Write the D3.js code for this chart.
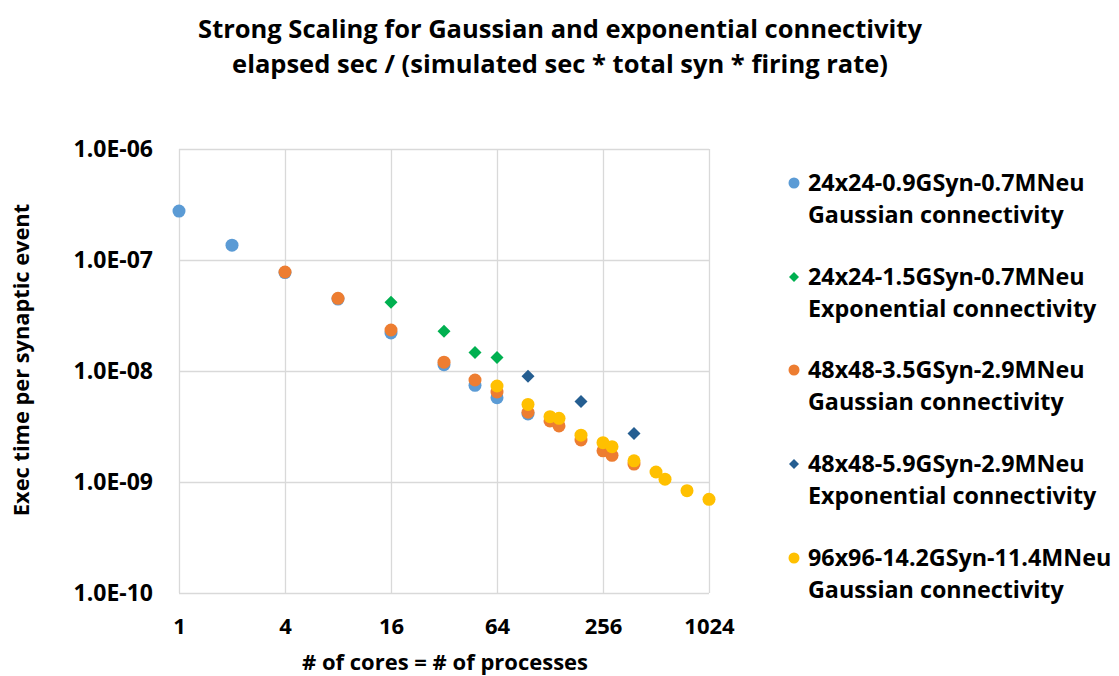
<!DOCTYPE html>
<html><head><meta charset="utf-8">
<script src="https://cdn.jsdelivr.net/npm/d3@7"></script>
<style>
html,body{margin:0;padding:0;background:#fff;}
text{font-family:"Open Sans","Lato",sans-serif;font-weight:700;fill:#000;}
</style></head>
<body><svg id="c" width="1119" height="676"></svg>
<script>
const xTicks = [1, 4, 16, 64, 256, 1024];
const yTicks = [1e-6, 1e-7, 1e-8, 1e-9, 1e-10];
const yTickLabels = ["1.0E-06", "1.0E-07", "1.0E-08", "1.0E-09", "1.0E-10"];

const seriesNames = [
  ["24x24-0.9GSyn-0.7MNeu", "Gaussian connectivity"],
  ["24x24-1.5GSyn-0.7MNeu", "Exponential connectivity"],
  ["48x48-3.5GSyn-2.9MNeu", "Gaussian connectivity"],
  ["48x48-5.9GSyn-2.9MNeu", "Exponential connectivity"],
  ["96x96-14.2GSyn-11.4MNeu", "Gaussian connectivity"]
];
const seriesColors = ["#5B9BD5", "#00B050", "#ED7D31", "#255E91", "#FFC000"];
const seriesShapes = ["circle", "diamond", "circle", "diamond", "circle"];

const blueX = [1, 2, 4, 8, 16, 32, 48, 64, 96];
const blueY = [2.76e-7, 1.36e-7, 7.7e-8, 4.45e-8, 2.2e-8, 1.14e-8, 7.43e-9, 5.75e-9, 4.1e-9];
const greenX = [16, 32, 48, 64];
const greenY = [4.16e-8, 2.28e-8, 1.47e-8, 1.32e-8];
const orangeX = [4, 8, 16, 32, 48, 64, 96, 128, 144, 192, 256, 288, 384];
const orangeY = [7.8e-8, 4.52e-8, 2.34e-8, 1.2e-8, 8.3e-9, 6.47e-9, 4.25e-9, 3.55e-9, 3.2e-9, 2.39e-9, 1.91e-9, 1.74e-9, 1.45e-9];
const darkX = [96, 192, 384];
const darkY = [8.95e-9, 5.3e-9, 2.74e-9];
const yellowX = [64, 96, 128, 144, 192, 256, 288, 384, 512, 576, 768, 1024];
const yellowY = [7.33e-9, 5.0e-9, 3.88e-9, 3.75e-9, 2.64e-9, 2.26e-9, 2.08e-9, 1.55e-9, 1.23e-9, 1.06e-9, 8.35e-10, 6.98e-10];

const seriesX = [blueX, greenX, orangeX, darkX, yellowX];
const seriesY = [blueY, greenY, orangeY, darkY, yellowY];

const svg = d3.select("#c");
const L = 179, R = 709, T = 149, B = 593;
const x = d3.scaleLog().base(4).domain([1, 1024]).range([L, R]);
const y = d3.scaleLog().domain([1e-10, 1e-6]).range([B, T]);

// title
svg.append("text").attr("x", 560).attr("y", 38).attr("text-anchor", "middle")
  .style("font-size", "25.5px").text("Strong Scaling for Gaussian and exponential connectivity");
svg.append("text").attr("x", 560).attr("y", 73).attr("text-anchor", "middle")
  .style("font-size", "25.5px").text("elapsed sec / (simulated sec * total syn * firing rate)");

// gridlines
const gx = svg.append("g").attr("transform", `translate(0,${B})`)
  .call(d3.axisBottom(x).tickValues(xTicks).tickSize(-(B - T)).tickFormat(""));
gx.select(".domain").remove();
gx.selectAll("line").attr("stroke", "#d9d9d9").attr("stroke-width", 1.3);

const gy = svg.append("g").attr("transform", `translate(${L},0)`)
  .call(d3.axisLeft(y).tickValues(yTicks).tickSize(-(R - L)).tickFormat(""));
gy.select(".domain").remove();
gy.selectAll("line").attr("stroke", "#d9d9d9").attr("stroke-width", 1.3);

// tick labels
const xl = svg.append("g").attr("transform", `translate(0,${B})`)
  .call(d3.axisBottom(x).tickValues(xTicks).tickSize(0).tickPadding(25).tickFormat(d => String(d)));
xl.select(".domain").remove();
xl.selectAll("text").style("font-size", "22px").style("font-family", null);

const yl = svg.append("g").attr("transform", `translate(${L},0)`)
  .call(d3.axisLeft(y).tickValues(yTicks).tickSize(0).tickPadding(26).tickFormat((d, i) => yTickLabels[i]));
yl.select(".domain").remove();
yl.selectAll("text").style("font-size", "23px").style("font-family", null);

// axis titles
svg.append("text").attr("x", 445).attr("y", 670).attr("text-anchor", "middle")
  .style("font-size", "22px").text("# of cores = # of processes");
svg.append("text").attr("transform", "translate(29,360) rotate(-90)").attr("text-anchor", "middle")
  .style("font-size", "21.8px").text("Exec time per synaptic event");

function drawMarker(g, shape, cx, cy, size, color) {
  if (shape === "circle") {
    g.append("circle").attr("cx", cx).attr("cy", cy).attr("r", size).attr("fill", color);
  } else {
    const s = size;
    g.append("path").attr("d", `M${cx},${cy - s}L${cx + s},${cy}L${cx},${cy + s}L${cx - s},${cy}Z`).attr("fill", color);
  }
}

// points
seriesX.forEach((xs, si) => {
  const g = svg.append("g");
  xs.forEach((xv, i) => {
    drawMarker(g, seriesShapes[si], x(xv), y(seriesY[si][i]), 6.5, seriesColors[si]);
  });
});

// legend
const legY = [191, 285, 378, 472, 566];
seriesNames.forEach((nm, i) => {
  const g = svg.append("g");
  drawMarker(g, seriesShapes[i], 794, legY[i] - 8, seriesShapes[i] === "circle" ? 5.5 : 5, seriesColors[i]);
  g.append("text").attr("x", 808).attr("y", legY[i]).style("font-size", "23.3px").text(nm[0]);
  g.append("text").attr("x", 808).attr("y", legY[i] + 32).style("font-size", "23.3px").text(nm[1]);
});
</script></body></html>
